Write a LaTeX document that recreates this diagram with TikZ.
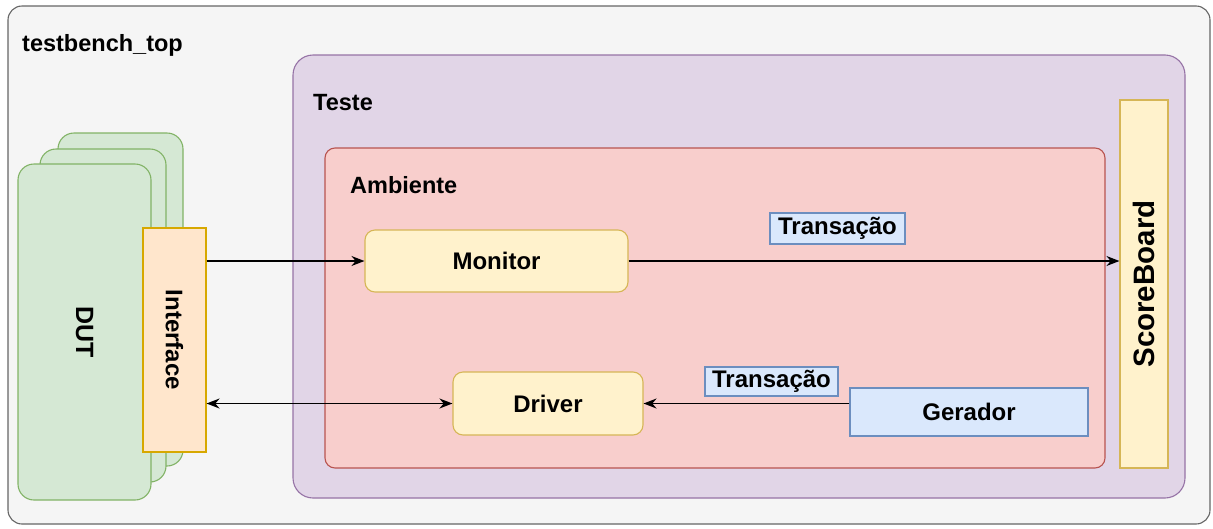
\documentclass[tikz,border=0pt]{standalone}
\usepackage{fontspec}
\setmainfont{Liberation Sans}
\usepackage{xcolor}
\usetikzlibrary{arrows.meta, positioning}
\definecolor{cinzaFundo}{HTML}{F5F5F5}
\definecolor{cinzaBorda}{HTML}{666666}
\definecolor{roxoFundo}{HTML}{E1D5E7}
\definecolor{roxoBorda}{HTML}{9673A6}
\definecolor{vermelhoFundo}{HTML}{F8CECC}
\definecolor{vermelhoBorda}{HTML}{B85450}
\definecolor{amareloFundo}{HTML}{FFF2CC}
\definecolor{amareloBorda}{HTML}{D6B656}
\definecolor{laranjaFundo}{HTML}{FFE6CC}
\definecolor{laranjaBorda}{HTML}{D7A800}
\definecolor{verdeFundo}{HTML}{D5E8D4}
\definecolor{verdeBorda}{HTML}{82B366}
\definecolor{azulFundo}{HTML}{DAE8FC}
\definecolor{azulBorda}{HTML}{6C8EBF}

\begin{document}
\begin{tikzpicture}[x=1pt, y=-1pt,
    caixa/.style={rectangle, inner sep=0pt, line width=1.1pt, font=\bfseries\fontsize{24}{27}\selectfont},
    moldura/.style={caixa, draw=cinzaBorda, fill=cinzaFundo, rounded corners=14pt},
    teste/.style={caixa, draw=roxoBorda, fill=roxoFundo, rounded corners=20pt},
    ambiente/.style={caixa, draw=vermelhoBorda, fill=vermelhoFundo, rounded corners=10pt},
    bloco/.style={caixa, draw=amareloBorda, fill=amareloFundo, rounded corners=10pt},
    interface/.style={caixa, draw=laranjaBorda, fill=laranjaFundo},
    dut/.style={caixa, draw=verdeBorda, fill=verdeFundo, rounded corners=16pt},
    transacao/.style={caixa, draw=azulBorda, fill=azulFundo},
    rotulo/.style={anchor=west, inner sep=0pt, font=\bfseries\fontsize{23.5}{26}\selectfont},
    seta/.style={-{Stealth[length=13pt, width=10pt]}, line width=1.4pt},
    setadupla/.style={{Stealth[length=13pt, width=10pt]}-{Stealth[length=13pt, width=10pt]}, line width=1.4pt}
]
    \useasboundingbox (0,0) rectangle (1213,528);

    \node[moldura, minimum width=1202pt, minimum height=518pt] (top) at (609,265) {};
    \node[rotulo] (topLabel) at (22,45) {testbench\_top};

    \node[teste, minimum width=892pt, minimum height=443pt] (teste) at (739,276.5) {};
    \node[rotulo] (testeLabel) at (313,103) {Teste};

    \node[ambiente, minimum width=780pt, minimum height=320pt] (ambiente) at (715,308) {};
    \node[rotulo] (ambienteLabel) at (350,185) {Ambiente};

    \node[bloco, rounded corners=0pt, rotate=90, minimum width=368pt, minimum height=48pt,
          font=\bfseries\fontsize{29.5}{32}\selectfont] (scoreboard) at (1144,284) {ScoreBoard};

    \node[dut, rotate=-90, minimum width=333pt, minimum height=125pt] (dut3) at (120.5,299.5) {};
    \node[dut, rotate=-90, minimum width=333pt, minimum height=126pt] (dut2) at (103,315.5) {};
    \node[dut, rotate=-90, minimum width=336pt, minimum height=133pt,
          font=\bfseries\fontsize{25}{28}\selectfont] (dut) at (84.5,332) {DUT};

    \node[interface, rotate=-90, minimum width=224pt, minimum height=63pt] (interface) at (174.5,340) {Interface};

    \node[bloco, minimum width=263pt, minimum height=62pt] (monitor) at (496.5,261) {Monitor};
    \node[bloco, minimum width=190pt, minimum height=63pt] (driver) at (548,403.5) {Driver};
    \node[transacao, minimum width=238pt, minimum height=48pt] (gerador) at (969,412) {Gerador};

    \node[transacao, minimum width=135pt, minimum height=31pt] (trans1) at (837.5,228.5) {Transação};
    \node[transacao, minimum width=133pt, minimum height=29pt] (trans2) at (771.5,381.5) {Transação};

    \draw[seta] (monitor.west -| interface.north) -- (monitor.west);
    \draw[seta] (monitor.east) -- (monitor.east -| scoreboard.north);
    \draw[setadupla] (driver.west -| interface.north) -- (driver.west);
    \draw[seta] (driver.east -| gerador.west) -- (driver.east);
\end{tikzpicture}
\end{document}
